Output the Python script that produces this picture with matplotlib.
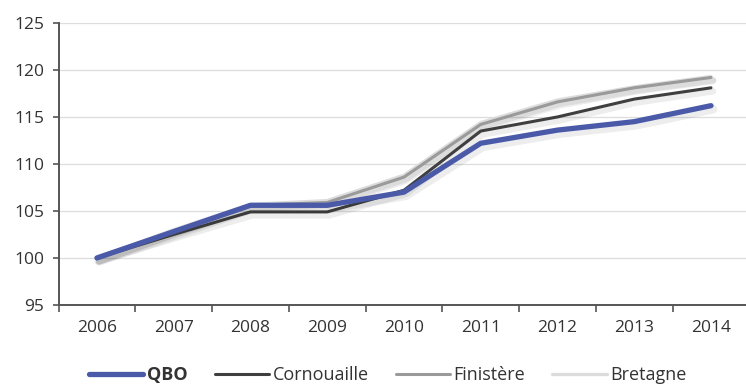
import matplotlib.pyplot as plt
import matplotlib.patheffects as pe

plt.rcParams['font.family'] = ['Open Sans', 'DejaVu Sans']

annees = ['2006', '2007', '2008', '2009', '2010', '2011', '2012', '2013', '2014']
qbo = [100, 102.8, 105.6, 105.6, 107.0, 112.2, 113.6, 114.5, 116.2]
cornouaille = [100, 102.5, 104.9, 104.9, 107.2, 113.5, 115.0, 116.9, 118.1]
finistere = [100, 102.9, 105.6, 105.9, 108.6, 114.2, 116.6, 118.1, 119.2]
bretagne = [100, 103.0, 105.7, 106.1, 108.8, 114.4, 116.8, 118.2, 119.3]

series = [
    ('Bretagne', bretagne, '#dcdcdc', 2.4),
    ('Finistère', finistere, '#9a9a9a', 2.2),
    ('Cornouaille', cornouaille, '#3f3f3f', 2.2),
    ('QBO', qbo, '#4a5aa8', 3.8),
]

fig = plt.figure(figsize=(7.46, 3.87), dpi=100)
ax = fig.add_axes([0.0785, 0.212, 0.926, 0.7287])

x = range(len(annees))
lignes = {}
for nom, vals, couleur, lw in series:
    # ombre portée légère sous chaque courbe
    ombre = [pe.SimpleLineShadow(offset=(1.5, -2.5), shadow_color='#000000', alpha=0.07,
                                 linewidth=lw + 2.5),
             pe.Normal()]
    l, = ax.plot(x, vals, color=couleur, lw=lw, solid_capstyle='round',
                 solid_joinstyle='round', label=nom, path_effects=ombre, zorder=3)
    lignes[nom] = l

ax.set_xlim(-0.5, len(annees) - 0.5)
ax.set_ylim(95, 125)
ax.set_yticks(range(95, 126, 5))
ax.set_xticks(x)
ax.set_xticklabels(annees)
ax.set_xticks([i - 0.5 for i in range(len(annees) + 1)], minor=True)
ax.tick_params(axis='x', which='major', length=0, pad=11, labelsize=12.5, colors='#333333')
ax.tick_params(axis='x', which='minor', length=5, width=1.2, color='#555555', direction='out')
ax.tick_params(axis='y', length=4.5, width=1.2, color='#555555', labelsize=12.5,
               labelcolor='#333333', pad=6)

ax.grid(axis='y', color='#dddddd', lw=0.9, zorder=0)
ax.set_axisbelow(True)
for s in ['top', 'right']:
    ax.spines[s].set_visible(False)
for s in ['left', 'bottom']:
    ax.spines[s].set_color('#555555')
    ax.spines[s].set_linewidth(1.4)

ordre = ['QBO', 'Cornouaille', 'Finistère', 'Bretagne']
leg = fig.legend([lignes[n] for n in ordre], ordre, loc='center', bbox_to_anchor=(0.52, 0.03),
                 ncol=4, frameon=False, handlelength=3.0, columnspacing=1.5, handletextpad=0.2,
                 fontsize=13, borderpad=0, borderaxespad=0)
for t in leg.get_texts():
    t.set_color('#333333')
leg.get_texts()[0].set_fontweight('bold')
for h in leg.legend_handles:
    h.set_path_effects([])

fig.savefig('out.png', dpi=100)
